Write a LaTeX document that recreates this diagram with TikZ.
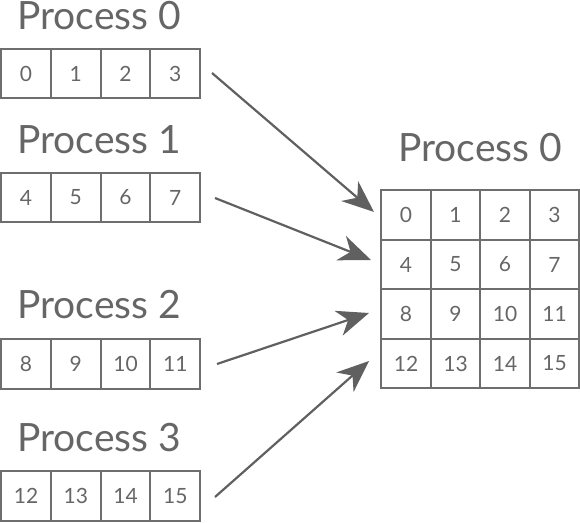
\documentclass[tikz,border=0pt]{standalone}
\usepackage{fontspec}
\setmainfont{Lato}
\usetikzlibrary{arrows.meta}
\definecolor{boxgray}{HTML}{6E6E6E}
\definecolor{txtgray}{HTML}{666666}
\definecolor{arrgray}{HTML}{606060}
\tikzset{
  cell/.style={draw=boxgray, line width=1.6pt, minimum width=49.5pt, minimum height=49.5pt, inner sep=0pt, text=txtgray, font=\fontsize{21}{21}\selectfont},
  title/.style={text=txtgray, font=\fontsize{39}{39}\selectfont, inner sep=0pt},
  conn/.style={draw=arrgray, line width=2.2pt, -{Stealth[length=32pt,width=26pt,inset=10pt]}}
}
\begin{document}
\begin{tikzpicture}[x=1pt,y=-1pt]
\useasboundingbox (0,0) rectangle (580,522);
% left rows
\foreach \r/\yc/\lab/\ly in {0/73.5/0/16, 1/197.5/1/140, 2/364/2/305, 3/496/3/438}{
  \node[title] (t\r) at (99,\ly) {Process \lab};
  \foreach \c/\xc in {0/26,1/75.75,2/125.5,3/175.25}{
    \pgfmathtruncatemacro{\n}{4*\r+\c}
    \node[cell] (a\r\c) at (\xc,\yc) {\n};
  }
}
% right grid
\node[title] (tr) at (480,148) {Process 0};
\foreach \r/\yc in {0/215,1/264.5,2/314,3/363.5}{
  \foreach \c/\xc in {0/406,1/455.5,2/505,3/554.5}{
    \pgfmathtruncatemacro{\n}{4*\r+\c}
    \node[cell] (g\r\c) at (\xc,\yc) {\n};
  }
}
% arrows
\coordinate (s0) at (212,73);
\coordinate (s1) at (215,198);
\coordinate (s2) at (217,364);
\coordinate (s3) at (215,497);
\coordinate (e0) at (374,212);
\coordinate (e1) at (371,260);
\coordinate (e2) at (369,313);
\coordinate (e3) at (369,361);
\foreach \i in {0,1,2,3}{
  \draw[conn] (s\i) -- (e\i);
}
\end{tikzpicture}
\end{document}
